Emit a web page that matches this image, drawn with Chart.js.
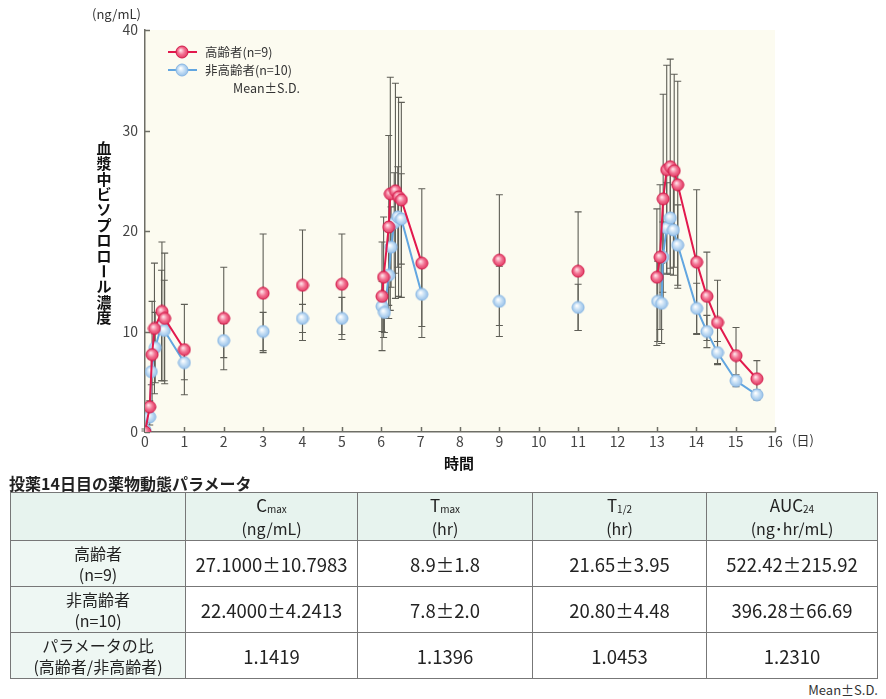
<!DOCTYPE html>
<html lang="ja">
<head>
<meta charset="utf-8">
<title>血漿中ビソプロロール濃度</title>
<script src="https://cdn.jsdelivr.net/npm/chart.js@4.4.0/dist/chart.umd.min.js"></script>
<style>
  html, body { margin: 0; padding: 0; background: #fff; }
  body { width: 886px; height: 699px; position: relative; overflow: hidden;
         font-family: "Noto Sans CJK JP", "Noto Sans", sans-serif; color: #222; }
  #chartBox { position: absolute; left: 0; top: 0; width: 886px; height: 476px; }
  #tblTitle { position: absolute; left: 9px; top: 472px; font-size: 16px; font-weight: bold; line-height: 22px; }
  #pk { position: absolute; left: 10px; top: 492px; border-collapse: collapse; table-layout: fixed;
        border: 1.5px solid #555; }
  #pk td, #pk th { border: 1px solid #777; text-align: center; vertical-align: middle; padding: 0;
                   font-weight: normal; color: #222; }
  #pk th { background: #e7f3ee; font-size: 16px; line-height: 20px; height: 47px; }
  #pk th .big { font-size: 17px; }
  #pk td { font-size: 18.5px; height: 45px; }
  #pk td.rh { background: #eef7f3; font-size: 16px; line-height: 21px; }
  #pk sub { font-size: 10px; vertical-align: baseline; position: relative; top: 1px; }
  #note { position: absolute; right: 8px; top: 680px; font-size: 13px; color: #333; }
</style>
</head>
<body>
<div id="chartBox"><canvas id="pkChart"></canvas></div>
<div id="tblTitle">投薬14日目の薬物動態パラメータ</div>
<table id="pk"></table>
<div id="note">Mean±S.D.</div>
<script>
// days after first dose
const timeElderly = [0, 0.12, 0.18, 0.24, 0.43, 0.5, 1, 2, 3, 4, 5,
  6.02, 6.06, 6.19, 6.23, 6.36, 6.44, 6.51, 7.03, 9, 11,
  13.0, 13.08, 13.16, 13.25, 13.34, 13.44, 13.53, 14.01, 14.27, 14.54, 15.01, 15.54];
const meanElderly = [0, 2.5, 7.7, 10.3, 12.0, 11.3, 8.2, 11.3, 13.8, 14.6, 14.7,
  13.5, 15.4, 20.4, 23.7, 24.0, 23.4, 23.1, 16.8, 17.1, 16.0,
  15.4, 17.4, 23.2, 26.1, 26.4, 26.0, 24.6, 16.9, 13.5, 10.9, 7.6, 5.3];
const sdElderly = [0, 0.6, 5.3, 6.5, 6.9, 6.5, 4.5, 5.1, 5.9, 5.5, 5.0,
  5.4, 6.0, 9.1, 11.6, 10.7, 9.9, 9.7, 7.4, 6.5, 5.9,
  6.8, 7.2, 10.4, 10.4, 10.7, 9.6, 10.3, 7.2, 4.4, 4.2, 2.8, 1.8];

const timeYoung = [0, 0.12, 0.16, 0.26, 0.42, 0.49, 1, 2, 3, 4, 5,
  6.02, 6.08, 6.19, 6.25, 6.33, 6.42, 6.51, 7.03, 9, 11,
  13.02, 13.12, 13.15, 13.25, 13.34, 13.42, 13.53, 14.01, 14.27, 14.54, 15.01, 15.54];
const meanYoung = [0.2, 1.5, 6.0, 8.4, 10.6, 10.1, 6.9, 9.1, 10.0, 11.3, 11.3,
  12.5, 11.9, 15.6, 18.4, 20.8, 21.4, 21.2, 13.7, 13.0, 12.4,
  13.0, 12.8, 17.4, 20.3, 21.3, 20.1, 18.6, 12.3, 10.0, 7.9, 5.1, 3.7];
const sdYoung = [0.1, 0.8, 1.3, 3.5, 5.5, 5.0, 1.7, 1.7, 1.9, 1.4, 2.1,
  2.5, 2.0, 3.0, 4.0, 5.0, 5.0, 4.5, 3.2, 3.5, 2.3,
  4.0, 4.0, 3.5, 4.5, 5.0, 4.5, 4.0, 2.5, 1.6, 1.1, 0.6, 0.5];

// lines are drawn only inside the intensive sampling days (day 0-1, 6-7, 13-15.5)
const maxJoinGap = 0.6;

const xTicks = [0, 1, 2, 3, 4, 5, 6, 7, 8, 9, 10, 11, 12, 13, 14, 15, 16];
const yTicks = [0, 10, 20, 30, 40];

// parameter table (day 14)
const tableHead = ['', '<span class="big">C</span><sub>max</sub><br>(ng/mL)', '<span class="big">T</span><sub>max</sub><br>(hr)',
  '<span class="big">T</span><sub>1/2</sub><br>(hr)', '<span class="big">AUC</span><sub>24</sub><br>(ng･hr/mL)'];
const tableRows = [
  ['高齢者<br>(n=9)', '27.1000±10.7983', '8.9±1.8', '21.65±3.95', '522.42±215.92'],
  ['非高齢者<br>(n=10)', '22.4000±4.2413', '7.8±2.0', '20.80±4.48', '396.28±66.69'],
  ['パラメータの比<br>(高齢者/非高齢者)', '1.1419', '1.1396', '1.0453', '1.2310']
];
const colWidths = [175, 172, 175, 174, 171];

(function buildTable() {
  const tbl = document.getElementById('pk');
  let html = '<colgroup>' + colWidths.map(w => '<col style="width:' + w + 'px">').join('') + '</colgroup>';
  html += '<tr>' + tableHead.map(h => '<th>' + h + '</th>').join('') + '</tr>';
  tableRows.forEach(r => {
    html += '<tr>' + r.map((c, i) => '<td' + (i === 0 ? ' class="rh"' : '') + '>' + c + '</td>').join('') + '</tr>';
  });
  tbl.innerHTML = html;
})();

function makeBall(light, mid, edge, rim) {
  const c = document.createElement('canvas');
  c.width = c.height = 14;
  const g = c.getContext('2d');
  const grd = g.createRadialGradient(5.6, 5.2, 0.4, 7, 7, 6.5);
  grd.addColorStop(0, light);
  grd.addColorStop(0.5, mid);
  grd.addColorStop(1, edge);
  g.beginPath();
  g.arc(7, 7, 6, 0, Math.PI * 2);
  g.fillStyle = grd;
  g.fill();
  g.lineWidth = 1;
  g.strokeStyle = rim;
  g.stroke();
  return c;
}
const redBall = makeBall('#ffe3e9', '#f27393', '#e0325c', '#d21a4a');
const blueBall = makeBall('#ffffff', '#c3ddf4', '#92bde7', '#88b6e3');

const FONT = '"Noto Sans CJK JP", "Noto Sans", sans-serif';

function segColor(color) {
  return ctx => (ctx.p1.parsed.x - ctx.p0.parsed.x > maxJoinGap ? 'rgba(0,0,0,0)' : color);
}

// cream plot area
const plotBg = {
  id: 'plotBg',
  beforeDraw(chart) {
    const { ctx, chartArea: a } = chart;
    ctx.save();
    ctx.fillStyle = '#fcfbf0';
    ctx.fillRect(a.left, a.top, a.right - a.left, a.bottom - a.top);
    ctx.restore();
  }
};

// inward tick marks + S.D. bars
const errorBars = {
  id: 'errorBars',
  beforeDatasetsDraw(chart) {
    const { ctx, scales: { x, y } } = chart;
    ctx.save();
    ctx.strokeStyle = '#6e6e66';
    ctx.lineWidth = 1.5;
    x.ticks.forEach(t => {
      const px = Math.round(x.getPixelForValue(t.value)) + 0.5;
      ctx.beginPath(); ctx.moveTo(px, y.bottom); ctx.lineTo(px, y.bottom - 5); ctx.stroke();
    });
    y.ticks.forEach(t => {
      const py = Math.round(y.getPixelForValue(t.value)) + 0.5;
      ctx.beginPath(); ctx.moveTo(x.left, py); ctx.lineTo(x.left + 5, py); ctx.stroke();
    });

    ctx.strokeStyle = '#5e5e56';
    ctx.lineWidth = 1.1;
    [[timeYoung, meanYoung, sdYoung], [timeElderly, meanElderly, sdElderly]].forEach(([ts, ms, sds]) => {
      ts.forEach((t, i) => {
        if (!sds[i]) return;
        const px = x.getPixelForValue(t);
        const top = y.getPixelForValue(ms[i] + sds[i]);
        const bot = y.getPixelForValue(Math.max(0, ms[i] - sds[i]));
        ctx.beginPath();
        ctx.moveTo(px, top); ctx.lineTo(px, bot);
        ctx.moveTo(px - 3.5, top); ctx.lineTo(px + 3.5, top);
        ctx.moveTo(px - 3.5, bot); ctx.lineTo(px + 3.5, bot);
        ctx.stroke();
      });
    });
    ctx.restore();
  }
};

// titles, units and in-plot legend
const labels = {
  id: 'labels',
  afterDraw(chart) {
    const { ctx, chartArea: a } = chart;
    ctx.save();
    ctx.fillStyle = '#333';
    ctx.font = '13px ' + FONT;
    ctx.textBaseline = 'middle';
    ctx.textAlign = 'left';
    ctx.fillText('(ng/mL)', 92, 14);
    ctx.fillText('(日)', 792, 440);

    ctx.fillStyle = '#111';
    ctx.font = 'bold 15px ' + FONT;
    ctx.textAlign = 'center';
    ctx.fillText('時間', (a.left + a.right) / 2 - 1, 463);

    const title = '血漿中ビソプロロール濃度';
    [...title].forEach((ch, i) => {
      const cy = 148 + i * 15.4;
      if (ch === 'ー') {
        ctx.save(); ctx.translate(104, cy); ctx.rotate(Math.PI / 2); ctx.fillText(ch, 0, 0); ctx.restore();
      } else {
        ctx.fillText(ch, 104, cy);
      }
    });

    // legend
    const items = [
      { text: '高齢者(n=9)', color: '#e2194d', ball: redBall, y: 52 },
      { text: '非高齢者(n=10)', color: '#62a6e0', ball: blueBall, y: 70 }
    ];
    ctx.font = '12.5px ' + FONT;
    ctx.textAlign = 'left';
    items.forEach(it => {
      ctx.strokeStyle = it.color;
      ctx.lineWidth = 2;
      ctx.beginPath(); ctx.moveTo(168, it.y); ctx.lineTo(197, it.y); ctx.stroke();
      ctx.drawImage(it.ball, 182 - 7, it.y - 7);
      ctx.fillStyle = '#333';
      ctx.fillText(it.text, 205, it.y);
    });
    ctx.fillText('Mean±S.D.', 233, 88);
    ctx.restore();
  }
};

new Chart(document.getElementById('pkChart'), {
  type: 'line',
  data: {
    datasets: [
      {
        label: '高齢者(n=9)',
        data: timeElderly.map((t, i) => ({ x: t, y: meanElderly[i] })),
        borderColor: '#e2194d',
        borderWidth: 2,
        segment: { borderColor: segColor('#e2194d') },
        pointStyle: redBall,
        pointRadius: 6,
        tension: 0
      },
      {
        label: '非高齢者(n=10)',
        data: timeYoung.map((t, i) => ({ x: t, y: meanYoung[i] })),
        borderColor: '#62a6e0',
        borderWidth: 2,
        segment: { borderColor: segColor('#62a6e0') },
        pointStyle: blueBall,
        pointRadius: 6,
        tension: 0
      }
    ]
  },
  options: {
    responsive: true,
    maintainAspectRatio: false,
    animation: false,
    layout: { padding: { left: 100, right: 111, top: 30, bottom: 0 } },
    plugins: { legend: { display: false }, tooltip: { enabled: false } },
    scales: {
      x: {
        type: 'linear',
        min: xTicks[0],
        max: xTicks[xTicks.length - 1],
        afterFit(scale) { scale.height = 44; },
        afterBuildTicks(scale) { scale.ticks = xTicks.map(v => ({ value: v })); },
        ticks: { color: '#444', font: { size: 14, family: FONT }, padding: 1, maxRotation: 0 },
        grid: { display: false, drawTicks: false },
        border: { display: true, color: '#6e6e66', width: 1.5 }
      },
      y: {
        min: yTicks[0],
        max: yTicks[yTicks.length - 1],
        afterFit(scale) { scale.width = 45; },
        afterBuildTicks(scale) { scale.ticks = yTicks.map(v => ({ value: v })); },
        ticks: { color: '#444', font: { size: 14, family: FONT }, padding: 7 },
        grid: { display: false, drawTicks: false },
        border: { display: true, color: '#6e6e66', width: 1.5 }
      }
    }
  },
  plugins: [plotBg, errorBars, labels]
});
</script>
</body>
</html>
